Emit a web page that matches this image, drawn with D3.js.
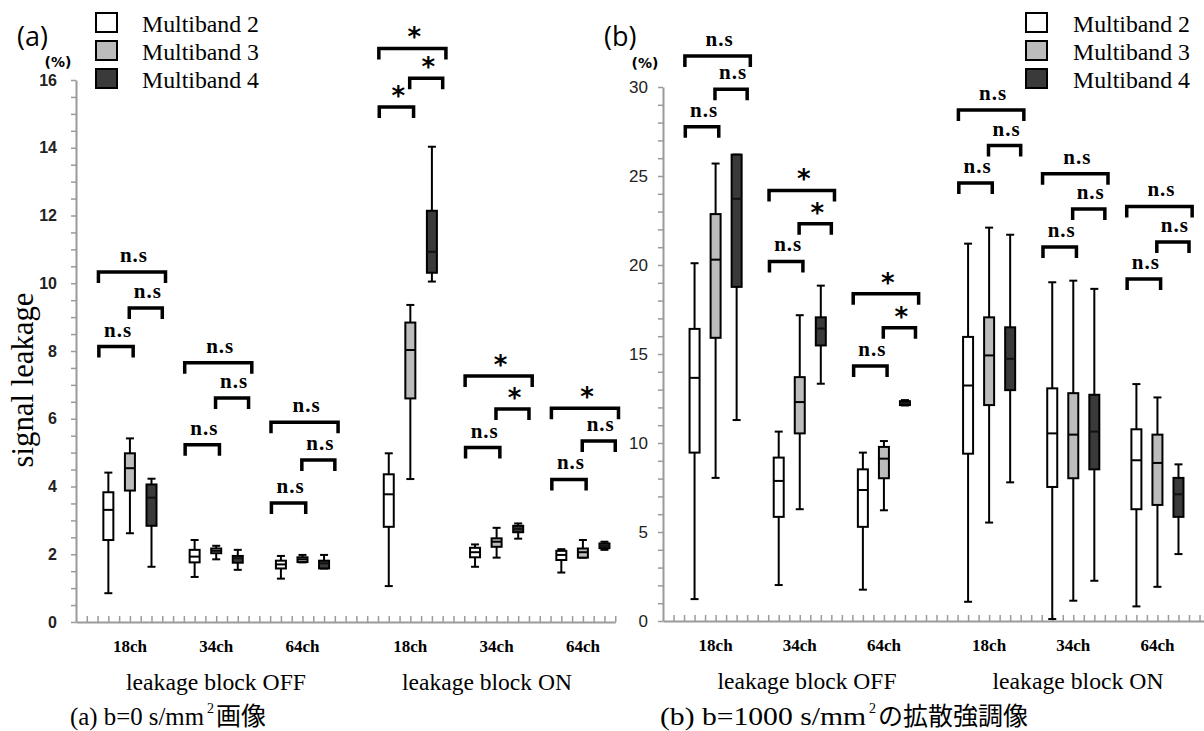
<!DOCTYPE html>
<html>
<head>
<meta charset="utf-8">
<script src="https://cdn.jsdelivr.net/npm/d3@7"></script>
<style>
	body { margin: 0; background: #fff; }
	svg { display: block; }
	.serif { font-family: "Liberation Serif", "DejaVu Serif", serif; }
	.sans { font-family: "Liberation Sans", Arial, sans-serif; }
	.dejavu { font-family: "DejaVu Sans", sans-serif; }
	.open { font-family: "Open Sans", sans-serif; }
	.cjk { font-family: "Noto Sans CJK JP", sans-serif; }
</style>
</head>
<body>
<div id="chart"></div>
<script>

const groupLabels = ["18ch", "34ch", "64ch", "18ch", "34ch", "64ch"];
const blockLabels = ["leakage block OFF", "leakage block ON"];
const seriesNames = ["Multiband 2", "Multiband 3", "Multiband 4"];

// [lower whisker, q1, median, q3, upper whisker], one row per group
const b0Band2 = [
	[0.85, 2.42, 3.31, 3.83, 4.41],
	[1.33, 1.76, 1.93, 2.13, 2.42],
	[1.28, 1.58, 1.70, 1.81, 1.95],
	[1.06, 2.81, 3.77, 4.36, 4.98],
	[1.63, 1.91, 2.06, 2.19, 2.29],
	[1.46, 1.83, 1.98, 2.10, 2.15]
];
const b0Band3 = [
	[2.62, 3.88, 4.54, 4.98, 5.42],
	[1.85, 2.03, 2.10, 2.17, 2.25],
	[1.76, 1.77, 1.85, 1.91, 1.98],
	[4.22, 6.60, 8.03, 8.84, 9.36],
	[1.90, 2.22, 2.37, 2.47, 2.78],
	[1.90, 1.90, 2.06, 2.17, 2.42]
];
const b0Band4 = [
	[1.63, 2.84, 3.67, 4.06, 4.23],
	[1.54, 1.75, 1.88, 1.95, 2.13],
	[1.58, 1.58, 1.73, 1.81, 1.98],
	[10.05, 10.31, 10.93, 12.14, 14.03],
	[2.46, 2.65, 2.75, 2.84, 2.91],
	[2.13, 2.18, 2.25, 2.32, 2.37]
];

const b1000Band2 = [
	[1.23, 9.46, 13.66, 16.41, 20.1],
	[2.02, 5.85, 7.87, 9.18, 10.64],
	[1.76, 5.29, 7.36, 8.52, 9.46],
	[1.08, 9.40, 13.23, 15.96, 21.2],
	[0.11, 7.53, 10.54, 13.07, 19.03],
	[0.82, 6.28, 9.03, 10.77, 13.31]
];
const b1000Band3 = [
	[8.04, 15.91, 20.3, 22.86, 25.7],
	[6.28, 10.54, 12.30, 13.70, 17.18],
	[6.22, 8.02, 9.12, 9.78, 10.11],
	[5.53, 12.13, 14.92, 17.06, 22.1],
	[1.14, 8.02, 10.47, 12.80, 19.12],
	[1.92, 6.52, 8.88, 10.47, 12.56]
];
const b1000Band4 = [
	[11.29, 18.77, 23.72, 26.2, 26.2],
	[13.33, 15.48, 16.43, 17.06, 18.84],
	[12.11, 12.13, 12.26, 12.35, 12.41],
	[7.79, 12.97, 14.73, 16.50, 21.7],
	[2.26, 8.52, 10.64, 12.71, 18.66],
	[3.76, 5.85, 7.12, 8.04, 8.80]
];

const b0Ticks = [0, 2, 4, 6, 8, 10, 12, 14, 16];
const b1000Ticks = [0, 5, 10, 15, 20, 25, 30];

// [group, pair, value, label]; pair 0 = MB2-MB3, 1 = MB3-MB4, 2 = MB2-MB4
const b0Brackets = [
	[0, 0, 8.13, "n.s"], [0, 1, 9.27, "n.s"], [0, 2, 10.33, "n.s"],
	[1, 0, 5.23, "n.s"], [1, 1, 6.61, "n.s"], [1, 2, 7.65, "n.s"],
	[2, 0, 3.51, "n.s"], [2, 1, 4.78, "n.s"], [2, 2, 5.90, "n.s"],
	[3, 0, 15.2, "*"], [3, 1, 16.05, "*"], [3, 2, 16.93, "*"],
	[4, 0, 5.15, "n.s"], [4, 1, 6.29, "*"], [4, 2, 7.26, "*"],
	[5, 0, 4.21, "n.s"], [5, 1, 5.34, "n.s"], [5, 2, 6.31, "*"]
];
const b1000Brackets = [
	[0, 0, 27.77, "n.s"], [0, 1, 29.87, "n.s"], [0, 2, 31.74, "n.s"],
	[1, 0, 20.2, "n.s"], [1, 1, 22.32, "*"], [1, 2, 24.19, "*"],
	[2, 0, 14.32, "n.s"], [2, 1, 16.47, "*"], [2, 2, 18.39, "*"],
	[3, 0, 24.6, "n.s"], [3, 1, 26.71, "n.s"], [3, 2, 28.71, "n.s"],
	[4, 0, 21.01, "n.s"], [4, 1, 23.14, "n.s"], [4, 2, 25.12, "n.s"],
	[5, 0, 19.22, "n.s"], [5, 1, 21.29, "n.s"], [5, 2, 23.29, "n.s"]
];

const fills = ["#ffffff", "#bcbcbc", "#3a3a3a"];
const medianColor = ["#000", "#000", "#111"];
const axisGray = "#9a9a9a";

const svg = d3.select("#chart")
	.append("svg")
		.attr("width", 1204)
		.attr("height", 731);

// slot index of a box: 3 boxes per group, one empty slot between groups, two between blocks
const slotOf = (gi, si) => gi * 4 + (gi > 2 ? 1 : 0) + si + 1.5;
const bracketOffsets = [[-0.44, 0.15], [-0.03, 0.5], [-0.46, 0.65]];

// fixes the width of serif text so a fallback face keeps the layout
const fit = (sel, w) => sel.attr("textLength", w).attr("lengthAdjust", "spacingAndGlyphs");

function drawPanel(p) {

	const x = d3.scaleLinear()
		.domain([0, p.slots])
		.range([p.left, p.left + p.slots * p.slotW]);

	const y = d3.scaleLinear()
		.domain([0, p.yMax])
		.range([p.bottom, p.top]);

	const g = svg.append("g");

	// y axis with minor ticks
	const yAxis = d3.axisLeft(y)
		.tickValues(d3.range(0, p.yMax + 1e-9, p.yMinor))
		.tickSize(5)
		.tickSizeOuter(0)
		.tickPadding(p.pad)
		.tickFormat(d => p.yTicks.includes(d) ? d : "");

	const ya = g.append("g")
		.attr("transform", `translate(${p.left},0)`)
		.call(yAxis);
	ya.attr("font-family", null);
	ya.select(".domain").attr("stroke", axisGray).attr("stroke-width", 2);
	ya.selectAll(".tick line").attr("stroke", axisGray).attr("stroke-width", 1.5);
	ya.selectAll(".tick text")
		.attr("class", "sans")
		.attr("font-size", p.tickSize)
		.attr("font-weight", p.tickWeight)
		.attr("fill", "#222");

	// x axis, ticks every half slot pointing up
	const xAxis = d3.axisTop(x)
		.tickValues(d3.range(0.5, p.tickMax + 1e-9, 0.5))
		.tickSize(6)
		.tickSizeOuter(0)
		.tickFormat("");

	const xa = g.append("g")
		.attr("transform", `translate(0,${p.bottom})`)
		.call(xAxis);
	xa.select(".domain").attr("stroke", axisGray).attr("stroke-width", 2);
	xa.selectAll(".tick line").attr("stroke", axisGray).attr("stroke-width", 1.5);

	// category labels
	g.selectAll("text.cat")
		.data(groupLabels)
		.enter()
		.append("text")
			.attr("class", "cat serif")
			.attr("x", (d, i) => x(slotOf(i, 1)))
			.attr("y", p.bottom + 30)
			.attr("text-anchor", "middle")
			.attr("font-weight", "bold")
			.attr("font-size", 17)
			.text(d => d);

	g.selectAll("text.block")
		.data(blockLabels)
		.enter()
		.append("text")
			.attr("class", "block serif")
			.attr("x", (d, i) => p.blockAt[i] - p.blockW[i] / 2)
			.attr("y", p.bottom + 68)
			.attr("font-size", 23.5)
			.attr("textLength", (d, i) => p.blockW[i])
			.attr("lengthAdjust", "spacingAndGlyphs")
			.text(d => d);

	// boxes
	const records = [];
	p.boxes.forEach((rows, si) => rows.forEach((d, gi) => {
		records.push({ si, gi, lo: d[0], q1: d[1], med: d[2], q3: d[3], hi: d[4] });
	}));

	const bw = 10, cw = 8;
	const boxes = g.selectAll("g.box")
		.data(records)
		.enter()
		.append("g")
			.attr("class", "box")
			.attr("transform", d => `translate(${x(slotOf(d.gi, d.si))},0)`);

	boxes.append("line")
		.attr("y1", d => y(d.lo))
		.attr("y2", d => y(d.hi))
		.attr("stroke", "#000")
		.attr("stroke-width", 2);

	boxes.selectAll("line.cap")
		.data(d => [d.lo, d.hi])
		.enter()
		.append("line")
			.attr("class", "cap")
			.attr("x1", -cw / 2)
			.attr("x2", cw / 2)
			.attr("y1", v => y(v))
			.attr("y2", v => y(v))
			.attr("stroke", "#000")
			.attr("stroke-width", 2);

	boxes.append("rect")
		.attr("x", -bw / 2)
		.attr("width", bw)
		.attr("y", d => y(d.q3))
		.attr("height", d => Math.max(1, y(d.q1) - y(d.q3)))
		.attr("fill", d => fills[d.si])
		.attr("stroke", "#000")
		.attr("stroke-width", 2);

	boxes.append("line")
		.attr("x1", -bw / 2)
		.attr("x2", bw / 2)
		.attr("y1", d => y(d.med))
		.attr("y2", d => y(d.med))
		.attr("stroke", d => medianColor[d.si])
		.attr("stroke-width", 2);

	// significance brackets
	const br = g.selectAll("g.bracket")
		.data(p.brackets)
		.enter()
		.append("g")
			.attr("class", "bracket");

	const ends = d => {
		const a = d[1] === 1 ? 1 : 0;
		const b = d[1] === 0 ? 1 : 2;
		const off = bracketOffsets[d[1]];
		return [x(slotOf(d[0], a) + off[0]), x(slotOf(d[0], b) + off[1])];
	};

	br.append("path")
		.attr("d", d => {
			const [x1, x2] = ends(d);
			const yy = y(d[2]);
			return `M${x1},${yy + 11}V${yy}H${x2}V${yy + 11}`;
		})
		.attr("fill", "none")
		.attr("stroke", "#000")
		.attr("stroke-width", 3.5);

	br.append("text")
		.attr("class", d => d[3] === "*" ? "dejavu" : "serif")
		.attr("x", d => d3.mean(ends(d)) + 2)
		.attr("y", d => y(d[2]) - (d[3] === "*" ? 2 : 10))
		.attr("text-anchor", "middle")
		.attr("font-weight", "bold")
		.attr("font-size", d => d[3] === "*" ? 26 : 21)
		.attr("letter-spacing", d => d[3] === "*" ? 0 : 1)
		.text(d => d[3]);

	// legend
	const leg = g.selectAll("g.legend")
		.data(seriesNames)
		.enter()
		.append("g")
			.attr("class", "legend")
			.attr("transform", (d, i) => `translate(${p.legendX},${13 + i * 28})`);

	leg.append("rect")
		.attr("width", 21)
		.attr("height", 19)
		.attr("fill", (d, i) => fills[i])
		.attr("stroke", "#000")
		.attr("stroke-width", 2);

	leg.append("text")
		.attr("class", "serif")
		.attr("x", p.legendTextDx)
		.attr("y", 19)
		.attr("font-size", 23.5)
		.call(fit, 117)
		.text(d => d);

	// panel letter and unit
	g.append("text")
		.attr("class", "open")
		.attr("x", p.left - 59)
		.attr("y", 46)
		.attr("font-size", 27)
		.text(p.letter);

	g.append("text")
		.attr("class", "dejavu")
		.attr("x", p.left - 18)
		.attr("y", p.unitY)
		.attr("text-anchor", "middle")
		.attr("font-weight", "bold")
		.attr("font-size", 14)
		.text("(%)");

	// caption: latin part, superscript 2, japanese part
	const cx = p.captionX;
	g.append("text")
		.attr("class", "serif")
		.attr("x", cx)
		.attr("y", 725)
		.attr("font-size", 26)
		.call(fit, p.captionW)
		.text(p.caption[0]);
	g.append("text")
		.attr("class", "serif")
		.attr("x", cx + p.captionW + 3)
		.attr("y", 713)
		.attr("font-size", 14)
		.text("2");
	g.append("text")
		.attr("class", "cjk")
		.attr("x", cx + p.captionW + 12)
		.attr("y", 725)
		.attr("font-size", 25)
		.text(p.caption[1]);
}

drawPanel({
	left: 76, slotW: 21.57, slots: 25, tickMax: 25,
	bottom: 622, top: 80, yMax: 16, yMinor: 0.5, yTicks: b0Ticks,
	pad: 14, tickSize: 16, tickWeight: "bold",
	boxes: [b0Band2, b0Band3, b0Band4],
	brackets: b0Brackets,
	blockAt: [216, 487], blockW: [180, 170],
	legendX: 96, legendTextDx: 46,
	letter: "(a)", unitY: 67,
	captionX: 70, captionW: 134, caption: ["(a) b=0 s/mm", "画像"]
});

drawPanel({
	left: 663, slotW: 21.04, slots: 25.7, tickMax: 25.5,
	bottom: 621, top: 87, yMax: 30, yMinor: 1, yTicks: b1000Ticks,
	pad: 10, tickSize: 17, tickWeight: "normal",
	boxes: [b1000Band2, b1000Band3, b1000Band4],
	brackets: b1000Brackets,
	blockAt: [807, 1078], blockW: [179, 171],
	legendX: 1026, legendTextDx: 47,
	letter: "(b)", unitY: 68,
	captionX: 660, captionW: 206, caption: ["(b) b=1000 s/mm", "の拡散強調像"]
});

svg.append("text")
	.attr("class", "serif")
	.attr("transform", "translate(33,380) rotate(-90)")
	.attr("x", -87.5)
	.attr("font-size", 31)
	.call(fit, 175)
	.text("signal leakage");

</script>
</body>
</html>
